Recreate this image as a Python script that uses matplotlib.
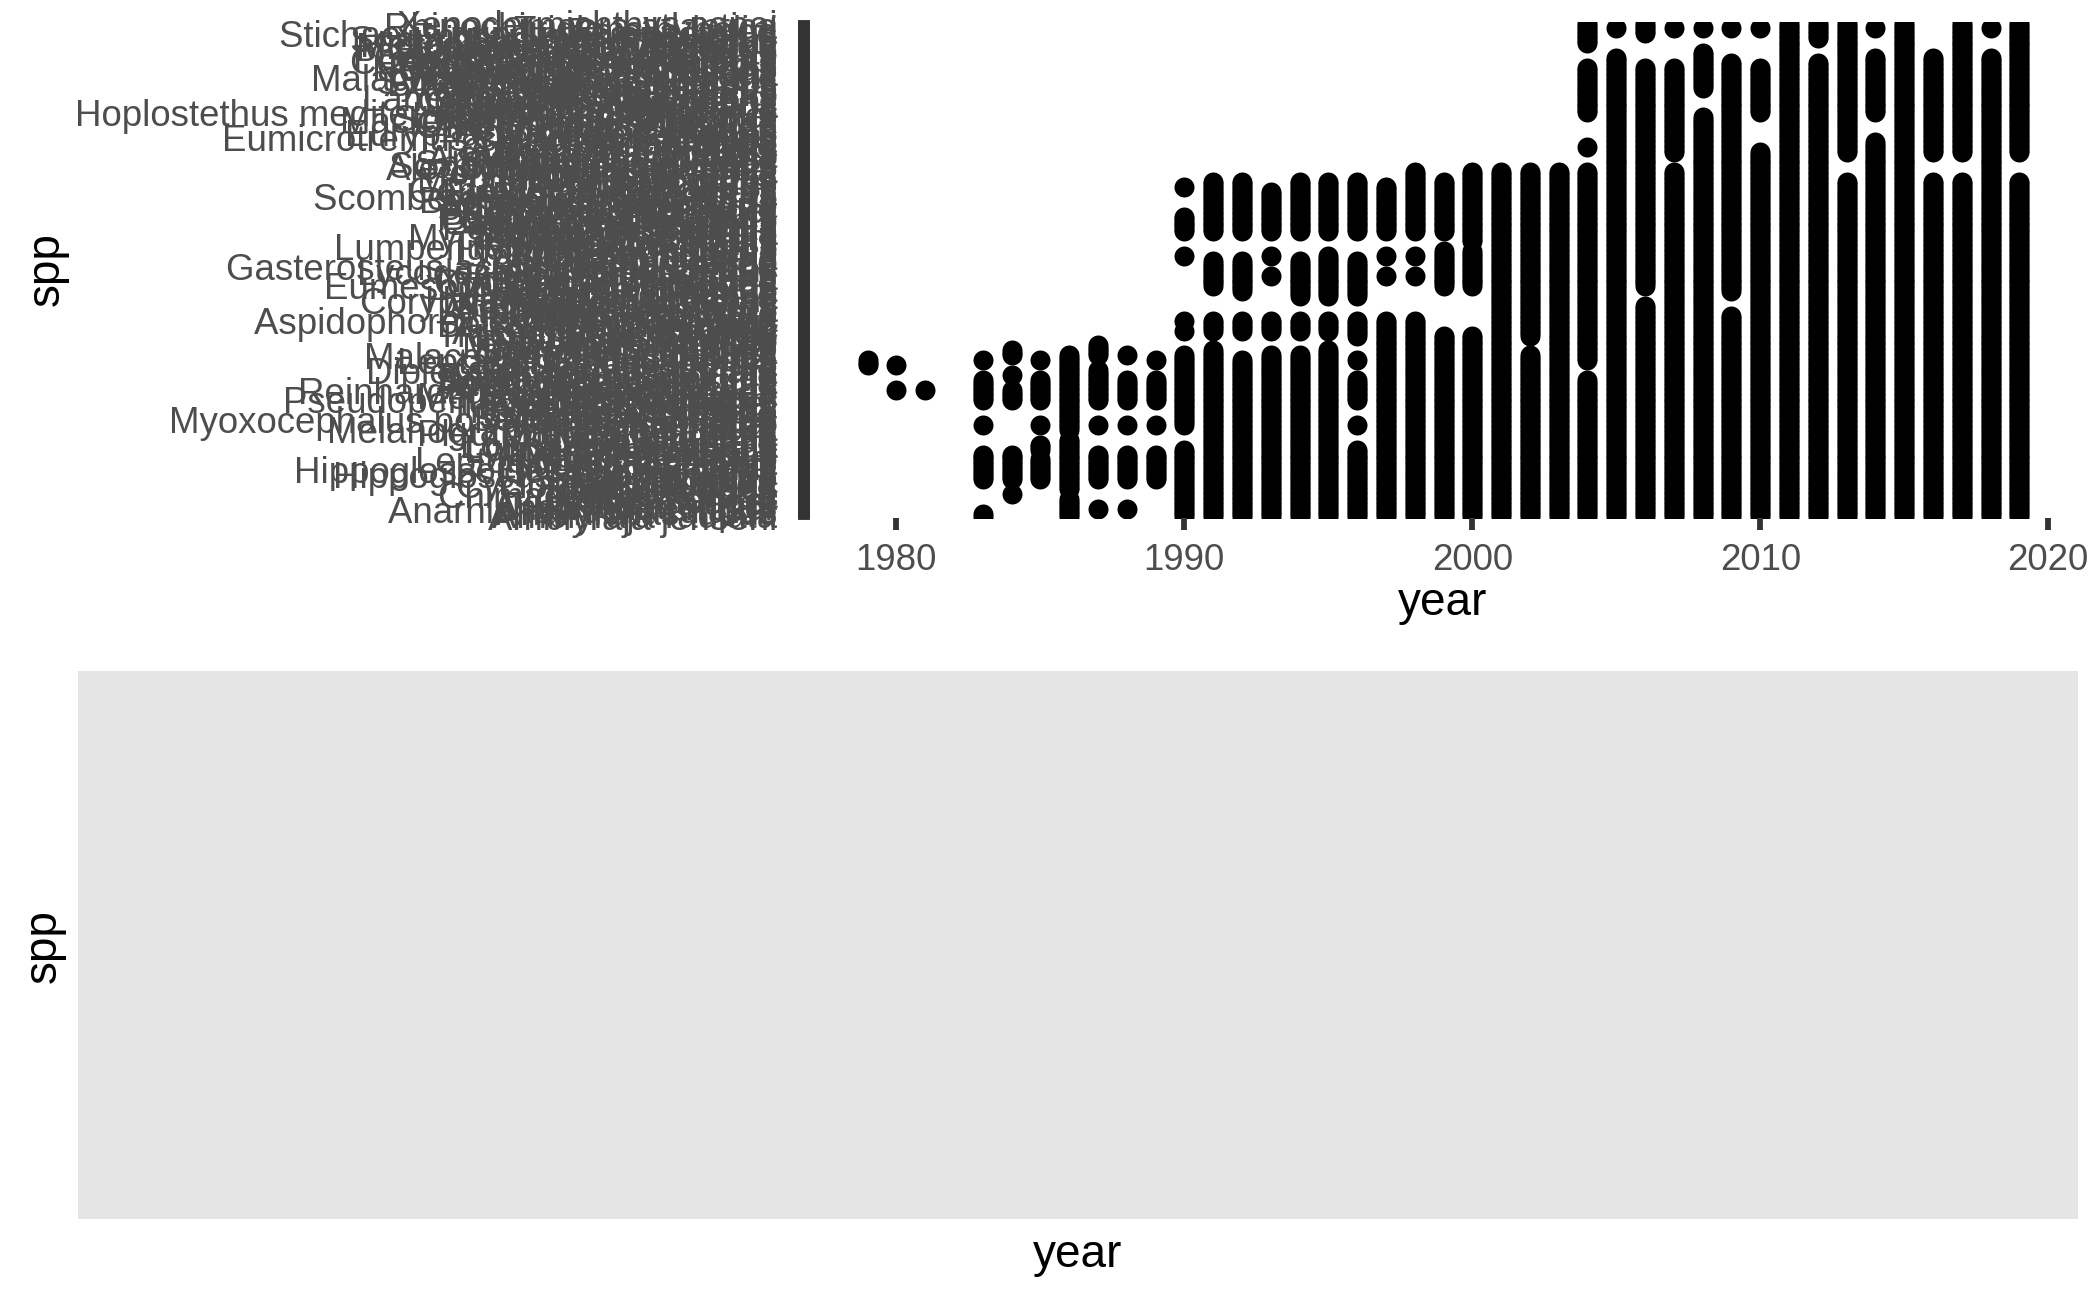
import matplotlib
matplotlib.use("Agg")
import matplotlib.pyplot as plt

plt.rcParams['font.family'] = ['Liberation Sans', 'DejaVu Sans']

# species factor levels, bottom (0) to top (199)
species = [
    # 0-9
    "Amblyraja jenseni", "Amblyraja radiata", "Anarhichas lupus", "Anarhichas denticulatus",
    "Anarhichas minor", "Clupea harengus", "Capros aper", "Conger conger", "Gadus morhua",
    "Chimaera monstrosa",
    # 10-19
    "Dalatias licha", "Deania calcea", "Dipturus batis", "Cyclopterus lumpus", "Limanda limanda",
    "Molva molva", "Mora moro", "Hippoglossus hippoglossus", "Solea solea",
    "Hippoglossoides platessoides",
    # 20-29
    "Lycodes vahlii", "Lycodes esmarkii", "Microstomus kitt", "Leptoclinus maculatus",
    "Lycodes rossi", "Lycodes gracilis", "Lycodes pallidus", "Lycodes reticulatus",
    "Lophius piscatorius", "Lophius budegassa",
    # 30-39
    "Liparis liparis", "Liparis gibbus", "Molva dypterygia", "Pollachius virens",
    "Pleuronectes platessa", "Melanogrammus aeglefinus", "Raja clavata", "Raja montagui",
    "Salmo salar", "Myoxocephalus polyacanthocephalus",
    # 40-49
    "Sebastes viviparus", "Squalus acanthias", "Brosme brosme", "Trisopterus esmarkii",
    "Trisopterus luscus", "Trisopterus minutus", "Zeus faber", "Pseudopentaceros richardsoni",
    "Zoarces viviparus", "Merlangius merlangus",
    # 50-59
    "Boreogadus saida", "Reinhardtius hippoglossoides", "Argentina silus", "Ammodytes marinus",
    "Ammodytes tobianus", "Scyliorhinus canicula", "Benthosema glaciale", "Entelurus aequoreus",
    "Etmopterus spinax", "Diplecogaster bimaculata",
    # 60-69
    "Galeus melastomus", "Icelus bicornis", "Icelus spatula", "Leptagonus decagonus",
    "Liparis fabricii", "Malacoraja spinacidermis", "Lumpenus fabricii", "Sebastes mentella",
    "Macrourus berglax", "Maurolicus muelleri",
    # 70-79
    "Phycis blennoides", "Platichthys flesus", "Rajella fyllae", "Sprattus sprattus",
    "Trachyrincus murrayi", "Arctogadus glacialis", "Triglops pingelii", "Triglops murrayi",
    "Bathyraja spinicauda", "Aspidophoroides monopterygius",
    # 80-89
    "Brama brama", "Callionymus lyra", "Antimora rostrata", "Artediellus atlanticus",
    "Arnoglossus laterna", "Bathylagus euryops", "Chauliodus sloani", "Coryphaenoides rupestris",
    "Halargyreus johnsonii", "Holtbyrnia anomala",
    # 90-99
    "Lampris guttatus", "Lepidion eques", "Leucoraja fullonica", "Eumesogrammus praecisus",
    "Cottunculus microps", "Cyclothone microdon", "Notoscopelus kroyeri", "Rhodichthys regina",
    "Searsia koefoedi", "Lycodes eudipleurostictus",
    # 100-109
    "Serrivomer beanii", "Gasterosteus aculeatus aculeatus", "Stomias boa", "Aphanopus carbo",
    "Arctozenus risso", "Ciliata mustela", "Pholis gunnellus", "Lycodes seminudus",
    "Mullus surmuletus", "Lumpenus lampretaeformis",
    # 110-119
    "Trachurus trachurus", "Urophycis chuss", "Taurulus bubalis", "Myctophum punctatum",
    "Sebastes fasciatus", "Scorpaena scrofa", "Sardina pilchardus", "Petromyzon marinus",
    "Nezumia aequalis", "Gadiculus argenteus",
    # 120-129
    "Hydrolagus affinis", "Paraliparis bathybius", "Beryx decadactylus", "Buglossidium luteum",
    "Centrolophus niger", "Alepisaurus ferox", "Argentina sphyraena", "Sebastes norvegicus",
    "Bathylagus bericoides", "Scomberesox saurus saurus",
    # 130-139
    "Blennius ocellaris", "Etmopterus princeps", "Gonostoma elongatum", "Leucoraja naevus",
    "Lycenchelys sarsii", "Maulisia mauli", "Merluccius merluccius", "Paraliparis copei",
    "Platytroctes apus", "Polyprion americanus",
    # 140-149
    "Rajella bathyphila", "Alepocephalus agassizii", "Scophthalmus maximus",
    "Spectrunculus grandis", "Symphodus melops", "Argyropelecus olfersii", "Torpedo nobiliana",
    "Trachipterus arcticus", "Gaidropsarus ensis", "Anisarchus medius",
    # 150-159
    "Ulcina olrikii", "Bathyraja pallida", "Neoraja caerulea", "Eumicrotremus spinosus spinosus",
    "Chirolophis ascanii", "Eurypharynx pelecanoides", "Pungitius pungitius",
    "Cyclothone braueri", "Careproctus reinhardti", "Enchelyopus cimbrius",
    # 160-169
    "Macroramphosus scolopax", "Scophthalmus rhombus", "Lycodes squamiventer",
    "Hoplostethus mediterraneus mediterraneus", "Pollachius pollachius", "Agonus cataphractus",
    "Harriotta raleighana", "Onogadus argentatus", "Cottunculus thomsonii",
    "Lampanyctus macdonaldi",
    # 170-179
    "Chimaera opalescens", "Oneirodes eschrichtii", "Dipturus linteus", "Gaidropsarus vulgaris",
    "Mallotus villosus", "Borostomias antarcticus", "Synaphobranchus kaupii",
    "Malacocephalus occidentalis", "Lycenchelys kolthoffi", "Lycodonus flagellicauda",
    # 180-189
    "Apristurus laurussonii", "Nemichthys scolopaceus", "Bathytroctes microlepis",
    "Normichthys operosus", "Centroscymnus coelolepis", "Protomyctophum arcticum",
    "Gaidropsarus argentatus", "Hyperoplus lanceolatus", "Zeugopterus punctatus",
    "Gymnocanthus tricuspis",
    # 190-199
    "Micromesistius poutassou", "Helicolenus dactylopterus", "Diaphus rafinesquii",
    "Somniosus microcephalus", "Engraulis encrasicolus", "Stichaeus punctatus punctatus",
    "Rajella lintea", "Triglops nybelini", "Rhinochimaera atlantica", "Xenodermichthys copei",
]

# survey years with at least one record
years = [1979, 1980, 1981, 1983, 1984, 1985, 1986, 1987, 1988, 1989,
         1990, 1991, 1992, 1993, 1994, 1995, 1996, 1997, 1998, 1999,
         2000, 2001, 2002, 2003, 2004, 2005, 2006, 2007, 2008, 2009,
         2010, 2011, 2012, 2013, 2014, 2015, 2016, 2017, 2018, 2019]

# species recorded each year, as (first, last) runs of species index
present = [
    [(61, 63)],
    [(61, 61), (51, 51)],
    [(51, 51)],
    [(63, 63), (47, 55), (37, 37), (15, 25), (0, 1)],
    [(65, 67), (57, 57), (47, 51), (15, 25), (9, 9)],
    [(63, 63), (47, 55), (37, 37), (27, 29), (15, 23)],
    [(35, 65), (11, 31), (0, 7)],
    [(65, 69), (47, 59), (37, 37), (15, 25), (3, 3)],
    [(65, 65), (47, 55), (37, 37), (15, 25), (3, 3)],
    [(63, 63), (47, 55), (37, 37), (15, 25)],
    [(133, 133), (115, 121), (105, 105), (79, 79), (75, 75), (37, 65), (0, 27)],
    [(115, 135), (93, 103), (75, 79), (0, 67)],
    [(115, 135), (91, 103), (75, 79), (0, 63)],
    [(115, 131), (105, 105), (97, 97), (75, 79), (0, 65)],
    [(115, 135), (89, 103), (75, 79), (0, 65)],
    [(115, 135), (89, 105), (75, 79), (0, 67)],
    [(115, 135), (89, 103), (73, 79), (63, 63), (47, 55), (37, 37), (0, 27)],
    [(115, 133), (105, 105), (97, 97), (0, 79)],
    [(115, 139), (105, 105), (97, 97), (0, 79)],
    [(115, 135), (93, 107), (0, 73)],
    [(111, 139), (93, 107), (0, 73)],
    [(0, 139)],
    [(73, 139), (0, 65)],
    [(0, 139)],
    [(191, 199), (163, 181), (149, 149), (63, 139), (0, 55)],
    [(197, 197), (0, 185)],
    [(195, 199), (93, 181), (0, 85)],
    [(197, 197), (147, 181), (0, 139)],
    [(197, 197), (173, 187), (0, 161)],
    [(197, 197), (91, 183), (0, 81)],
    [(197, 197), (163, 181), (0, 147)],
    [(0, 199)],
    [(193, 199), (0, 183)],
    [(147, 199), (0, 135)],
    [(197, 197), (163, 185), (0, 151)],
    [(0, 199)],
    [(147, 185), (0, 135)],
    [(147, 199), (0, 135)],
    [(197, 197), (0, 185)],
    [(147, 199), (0, 135)],
]

W, H, DPI = 2099, 1297, 300
fig = plt.figure(figsize=(W / DPI, H / DPI), dpi=DPI)

# long format, one row per species and year
xs, ys = [], []
for yr, runs in zip(years, present):
    for lo, hi in runs:
        for i in range(lo, hi + 1):
            xs.append(yr)
            ys.append(i)

# top panel: occurrence plot
ax = fig.add_axes([810 / W, 1 - 518 / H, 1267 / W, 496.3 / H])
ax.scatter(xs, ys, s=23, c='black', linewidths=0)
ax.set_xlim(1977, 2021)
ax.set_ylim(-0.6, len(species) - 0.4)
ax.set_xticks([1980, 1990, 2000, 2010, 2020])
ax.set_yticks(range(len(species)))
ax.set_yticklabels(species)
ax.tick_params(axis='both', colors='#333333', labelcolor='#4D4D4D',
               labelsize=8.8, length=2.8, width=1.4)
ax.tick_params(axis='x', pad=3.2)
ax.tick_params(axis='y', pad=5)
for s in ax.spines.values():
    s.set_visible(False)
fig.text(1443 / W, 1 - 603 / H, "year", ha='center', va='center', fontsize=11)
fig.text(47 / W, 1 - 269 / H, "spp", ha='center', va='center', fontsize=11, rotation=90)

# bottom panel: empty plot
ax2 = fig.add_axes([78 / W, 1 - 1219 / H, 2000 / W, 548 / H])
ax2.set_facecolor('#E5E5E5')
ax2.set_xticks([])
ax2.set_yticks([])
for s in ax2.spines.values():
    s.set_visible(False)
fig.text(1078 / W, 1 - 1255 / H, "year", ha='center', va='center', fontsize=11)
fig.text(44 / W, 1 - 946 / H, "spp", ha='center', va='center', fontsize=11, rotation=90)

fig.savefig("out.png", dpi=DPI)
